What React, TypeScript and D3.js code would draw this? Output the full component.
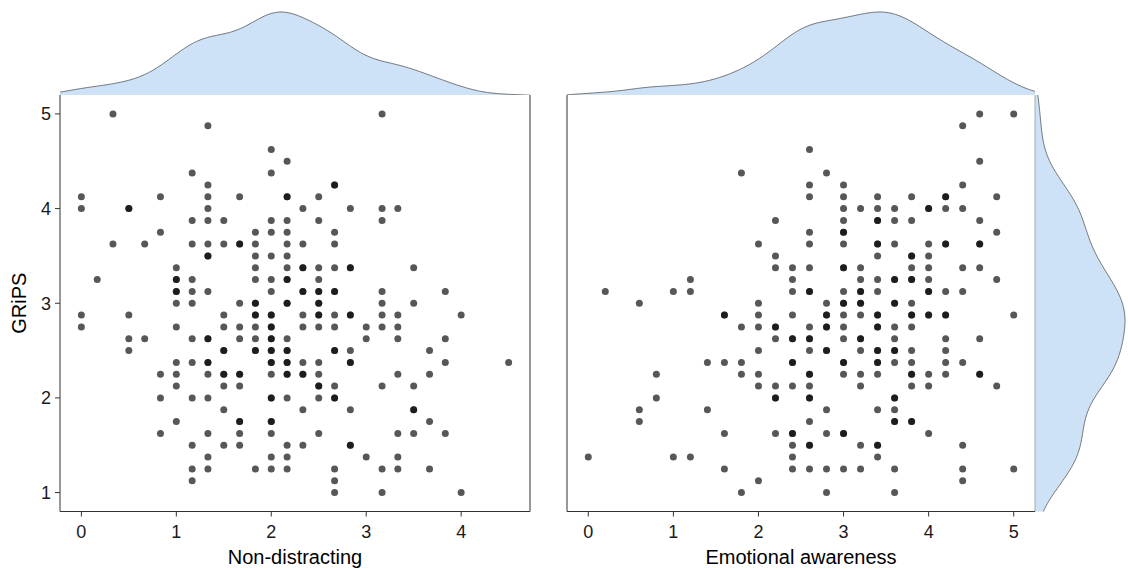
import React from "react";
import * as d3 from "d3";

// GRiPS value (row) -> Non-distracting values at that GRiPS level (repeats = overlapping points)
const nonDistractingRows: [number, number[]][] = [
  [5.0, [0.333, 3.167]],
  [4.875, [1.333]],
  [4.625, [2]],
  [4.5, [2.167]],
  [4.375, [1.167, 2]],
  [4.25, [1.333, 2.667, 2.667]],
  [4.125, [0, 0.833, 1.333, 1.667, 2.167, 2.167, 2.5]],
  [4.0, [0, 0.5, 0.5, 1.333, 2.333, 2.833, 3.167, 3.333]],
  [3.875, [1.167, 1.333, 1.5, 2, 2.167, 2.5, 3.167]],
  [3.75, [0.833, 1.833, 2, 2.167, 2.667]],
  [3.625, [0.333, 0.667, 1.167, 1.333, 1.5, 1.667, 1.667, 1.833, 2.167, 2.333, 2.667]],
  [3.5, [1.333, 1.333, 1.833, 2, 2.167]],
  [3.375, [1, 1.833, 2.167, 2.333, 2.333, 2.5, 2.667, 2.833, 2.833, 3.5]],
  [3.25, [0.167, 1, 1, 1.167, 1.833, 2, 2.167, 2.167, 2.5]],
  [3.125, [1, 1, 1.167, 1.333, 2, 2.333, 2.333, 2.5, 2.5, 2.667, 2.667, 3.167, 3.833]],
  [3.0, [1, 1.167, 1.667, 1.833, 1.833, 2.167, 2.167, 2.5, 2.5, 3.167, 3.5]],
  [2.875, [0, 0.5, 1.5, 1.833, 1.833, 2, 2, 2.333, 2.5, 2.5, 2.667, 2.833, 2.833, 3.167, 3.333, 4]],
  [2.75, [0, 1, 1.5, 1.667, 1.833, 2, 2, 2.333, 2.5, 2.667, 3, 3.167, 3.333]],
  [2.625, [0.5, 0.667, 1.167, 1.333, 1.333, 1.667, 1.833, 2, 2, 2.167, 3, 3.333, 3.833]],
  [2.5, [0.5, 1.5, 1.5, 1.833, 1.833, 2, 2, 2.167, 2.167, 2.667, 2.667, 2.833, 3.667]],
  [2.375, [1, 1.167, 1.333, 1.333, 2, 2, 2.167, 2.167, 2.333, 2.5, 2.833, 2.833, 3.833, 4.5]],
  [2.25, [0.833, 1, 1.333, 1.5, 1.5, 1.667, 1.667, 2, 2.167, 2.167, 2.333, 2.333, 2.5, 3.333, 3.667]],
  [2.125, [1, 1.5, 1.667, 2.5, 2.5, 2.667, 3.167, 3.5]],
  [2.0, [0.833, 1.167, 1.333, 2, 2, 2.167, 2.5, 2.667, 2.667]],
  [1.875, [1.5, 2.333, 2.833, 3.5, 3.5]],
  [1.75, [1, 1.667, 1.667, 2, 2, 3.667]],
  [1.625, [0.833, 1.333, 1.667, 2, 2.5, 3.333, 3.5, 3.833]],
  [1.5, [1.167, 1.5, 1.667, 2.167, 2.333, 2.833, 2.833]],
  [1.375, [1.333, 2, 2.167, 3, 3.333]],
  [1.25, [1.167, 1.333, 1.833, 2, 2.167, 2.667, 3.167, 3.333, 3.667]],
  [1.125, [1.167, 2.667]],
  [1.0, [2.667, 3.167, 4]],
];

// GRiPS value (row) -> Emotional awareness values at that GRiPS level
const emotionalRows: [number, number[]][] = [
  [5.0, [4.6, 5]],
  [4.875, [4.4]],
  [4.625, [2.6]],
  [4.5, [4.6]],
  [4.375, [1.8, 2.8]],
  [4.25, [2.6, 3, 4.4]],
  [4.125, [2.6, 3, 3.4, 3.8, 4.2, 4.2, 4.8]],
  [4.0, [3, 3.2, 3.4, 3.6, 4, 4, 4.2, 4.4]],
  [3.875, [2.2, 3, 3.4, 3.4, 3.6, 3.8, 4.6]],
  [3.75, [2.6, 3, 3, 4.8]],
  [3.625, [2, 2.6, 3, 3.4, 3.4, 3.6, 4, 4.2, 4.2, 4.6, 4.6]],
  [3.5, [2.2, 3.4, 3.8, 3.8, 4]],
  [3.375, [2.2, 2.4, 2.6, 3, 3, 3.2, 3.8, 4, 4.4, 4.6]],
  [3.25, [1.2, 2.4, 3.2, 3.4, 3.6, 3.6, 3.8, 3.8, 4, 4.8]],
  [3.125, [0.2, 1, 1.2, 2.4, 2.6, 2.6, 3, 3.2, 3.2, 3.4, 4, 4, 4.2, 4.4]],
  [3.0, [0.6, 2, 2.8, 3, 3, 3.2, 3.2, 3.6, 3.6, 3.8]],
  [2.875, [1.6, 1.6, 2, 2.4, 2.8, 2.8, 3, 3.2, 3.4, 3.4, 3.8, 3.8, 4, 4, 4.2, 4.2, 5]],
  [2.75, [1.8, 2, 2.2, 2.2, 2.6, 2.8, 2.8, 3, 3.4, 3.4, 3.6, 3.8]],
  [2.625, [2.2, 2.4, 2.4, 2.6, 2.6, 3, 3.2, 3.2, 3.6, 4.2, 4.6]],
  [2.5, [2, 2.6, 2.8, 2.8, 3.2, 3.4, 3.4, 3.6, 3.6, 3.8, 4.2]],
  [2.375, [1.4, 1.6, 1.8, 2.4, 2.4, 3, 3, 3.4, 3.4, 3.6, 3.8, 4.2, 4.4]],
  [2.25, [0.8, 1.8, 2, 2.6, 2.6, 3, 3.2, 3.4, 3.8, 3.8, 4, 4.2, 4.6, 4.6]],
  [2.125, [2, 2.2, 2.4, 2.6, 3.2, 3.8, 4, 4.8]],
  [2.0, [0.8, 2.2, 2.2, 2.6, 2.6, 3.6, 3.6]],
  [1.875, [0.6, 1.4, 2.8, 3.4, 3.6]],
  [1.75, [0.6, 2.6, 3.6, 3.6, 3.8, 3.8]],
  [1.625, [1.6, 2.2, 2.4, 2.4, 2.8, 3, 3, 4]],
  [1.5, [2.4, 2.6, 2.6, 3.2, 3.4, 3.4, 4.4]],
  [1.375, [0, 1, 1.2, 2.4, 3.4]],
  [1.25, [1.6, 2.4, 2.6, 2.8, 3, 3.2, 3.6, 4.4, 5]],
  [1.125, [2, 4.4]],
  [1.0, [1.8, 2.8, 3.6]],
];

const xTicksLeft = [0, 1, 2, 3, 4];
const xTicksRight = [0, 1, 2, 3, 4, 5];
const yTicks = [1, 2, 3, 4, 5];
const xTitleLeft = "Non-distracting";
const xTitleRight = "Emotional awareness";
const yTitle = "GRiPS";

type Pt = { x: number; y: number };
const flatten = (rows: [number, number[]][]): Pt[] =>
  rows.flatMap(([y, xs]) => xs.map((x) => ({ x, y })));

function kde(values: number[], lo: number, hi: number, n = 256): [number, number][] {
  const sd = d3.deviation(values) ?? 1;
  const sorted = [...values].sort((a, b) => a - b);
  const iqr = (d3.quantileSorted(sorted, 0.75)! - d3.quantileSorted(sorted, 0.25)!) / 1.34;
  const bw = 0.9 * Math.min(sd, iqr > 0 ? iqr : sd) * Math.pow(values.length, -0.2);
  const out: [number, number][] = [];
  for (let i = 0; i < n; i++) {
    const t = lo + ((hi - lo) * i) / (n - 1);
    let s = 0;
    for (const v of values) {
      const u = (t - v) / bw;
      s += Math.exp(-0.5 * u * u);
    }
    out.push([t, s / (values.length * bw * Math.sqrt(2 * Math.PI))]);
  }
  return out;
}

const FONT = "'Liberation Sans', Arial, Helvetica, sans-serif";
const FILL = "#cde1f7";
const AXIS = "#333333";
const TICK_FS = 18;
const TITLE_FS = 20;

export default function App() {
  const left = flatten(nonDistractingRows);
  const right = flatten(emotionalRows);

  const top = 95;
  const bottom = 511.5;
  const y = d3.scaleLinear().domain([0.8, 5.2]).range([bottom, top]);
  const xL = d3.scaleLinear().domain([-0.225, 4.725]).range([60, 530]);
  const xR = d3.scaleLinear().domain([-0.25, 5.25]).range([567, 1035]);

  const dL = kde(left.map((p) => p.x), -0.225, 4.725);
  const dR = kde(right.map((p) => p.x), -0.25, 5.25);
  const dY = kde(right.map((p) => p.y), 0.8, 5.2);

  const hL = d3.scaleLinear().domain([0, d3.max(dL, (d) => d[1])!]).range([96, 12]);
  const hR = d3.scaleLinear().domain([0, d3.max(dR, (d) => d[1])!]).range([96, 12]);
  const wY = d3.scaleLinear().domain([0, d3.max(dY, (d) => d[1])!]).range([1035, 1125]);

  const areaTop = (xs: d3.ScaleLinear<number, number>, hs: d3.ScaleLinear<number, number>) =>
    d3.area<[number, number]>().x((d) => xs(d[0])).y0(hs(0)).y1((d) => hs(d[1])).curve(d3.curveBasis);
  const lineTop = (xs: d3.ScaleLinear<number, number>, hs: d3.ScaleLinear<number, number>) =>
    d3.line<[number, number]>().x((d) => xs(d[0])).y((d) => hs(d[1])).curve(d3.curveBasis);
  const areaRight = d3
    .area<[number, number]>()
    .y((d) => y(d[0]))
    .x0(wY(0))
    .x1((d) => wY(d[1]))
    .curve(d3.curveBasis);
  const lineRight = d3
    .line<[number, number]>()
    .y((d) => y(d[0]))
    .x((d) => wY(d[1]))
    .curve(d3.curveBasis);

  const pointStyle = { fill: "#000", fillOpacity: 0.66 };

  return (
    <svg
      width={1128}
      height={570}
      style={{ position: "absolute", left: 0, top: 0, background: "#fff" }}
      fontFamily={FONT}
    >
      <rect x={0} y={0} width={1128} height={570} fill="#fff" />
      {/* marginal densities */}
      <path d={areaTop(xL, hL)(dL)!} fill={FILL} />
      <path d={lineTop(xL, hL)(dL)!} fill="none" stroke="#666" strokeWidth={0.9} />
      <path d={areaTop(xR, hR)(dR)!} fill={FILL} />
      <path d={lineTop(xR, hR)(dR)!} fill="none" stroke="#666" strokeWidth={0.9} />
      <path d={areaRight(dY)!} fill={FILL} />
      <path d={lineRight(dY)!} fill="none" stroke="#666" strokeWidth={0.9} />

      {/* panels */}
      <rect x={60} y={top} width={470} height={bottom - top} fill="#fff" />
      <rect x={567} y={top} width={468} height={bottom - top} fill="#fff" />

      {/* points */}
      {left.map((p, i) => (
        <circle key={"l" + i} cx={xL(p.x)} cy={y(p.y)} r={3.5} {...pointStyle} />
      ))}
      {right.map((p, i) => (
        <circle key={"r" + i} cx={xR(p.x)} cy={y(p.y)} r={3.5} {...pointStyle} />
      ))}

      {/* left panel axes */}
      <line x1={60} x2={60} y1={top} y2={bottom} stroke={AXIS} strokeWidth={1} />
      <line x1={530} x2={530} y1={top} y2={bottom} stroke={AXIS} strokeWidth={1} />
      <line x1={60} x2={530} y1={bottom} y2={bottom} stroke={AXIS} strokeWidth={1} />
      {yTicks.map((t) => (
        <g key={"yt" + t}>
          <line x1={55} x2={60} y1={y(t)} y2={y(t)} stroke={AXIS} strokeWidth={1} />
          <text x={51} y={y(t)} dy="0.35em" textAnchor="end" fontSize={TICK_FS} fill="#1a1a1a">
            {t}
          </text>
        </g>
      ))}
      {xTicksLeft.map((t) => (
        <g key={"xl" + t}>
          <line x1={xL(t)} x2={xL(t)} y1={bottom} y2={bottom + 5} stroke={AXIS} strokeWidth={1} />
          <text x={xL(t)} y={532} dy="0.35em" textAnchor="middle" fontSize={TICK_FS} fill="#1a1a1a">
            {t}
          </text>
        </g>
      ))}
      <text x={295} y={557} dy="0.35em" textAnchor="middle" fontSize={TITLE_FS} fill="#000">
        {xTitleLeft}
      </text>
      <text
        transform={`translate(19, ${(top + bottom) / 2}) rotate(-90)`}
        dy="0.35em"
        textAnchor="middle"
        fontSize={TITLE_FS}
        fill="#000"
      >
        {yTitle}
      </text>

      {/* right panel axes */}
      <line x1={567} x2={567} y1={top} y2={bottom} stroke={AXIS} strokeWidth={1} />
      <line x1={1035} x2={1035} y1={top} y2={bottom} stroke="#999" strokeWidth={0.8} />
      <line x1={567} x2={1035} y1={bottom} y2={bottom} stroke={AXIS} strokeWidth={1} />
      {xTicksRight.map((t) => (
        <g key={"xr" + t}>
          <line x1={xR(t)} x2={xR(t)} y1={bottom} y2={bottom + 5} stroke={AXIS} strokeWidth={1} />
          <text x={xR(t)} y={532} dy="0.35em" textAnchor="middle" fontSize={TICK_FS} fill="#1a1a1a">
            {t}
          </text>
        </g>
      ))}
      <text x={801} y={557} dy="0.35em" textAnchor="middle" fontSize={TITLE_FS} fill="#000">
        {xTitleRight}
      </text>
    </svg>
  );
}
